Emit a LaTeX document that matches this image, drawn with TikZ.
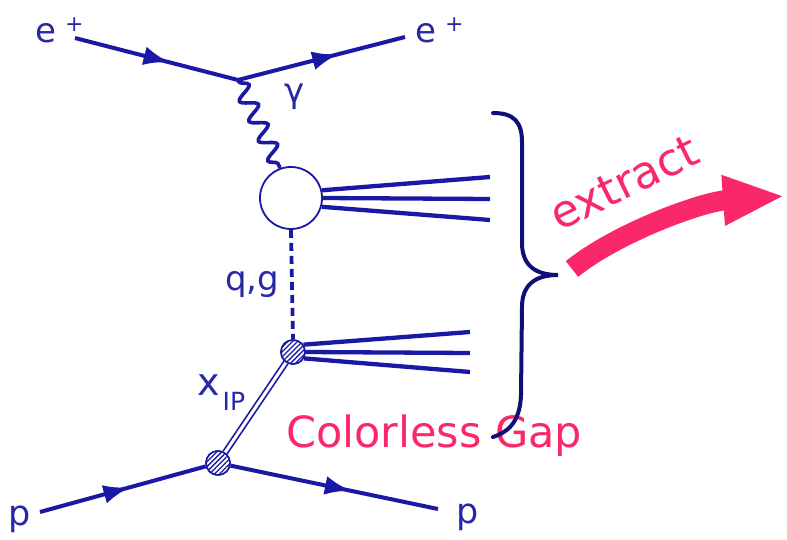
\documentclass[tikz,border=0pt]{standalone}
\usepackage{fontspec}
\setmainfont{DejaVu Sans}
\usetikzlibrary{arrows.meta,decorations.pathmorphing,decorations.markings,patterns.meta}
\definecolor{fblue}{RGB}{25,25,165}
\definecolor{lblue}{RGB}{40,40,165}
\definecolor{brnavy}{RGB}{15,15,120}
\definecolor{gpink}{RGB}{250,40,105}
\newcommand{\myeplus}{e\hspace{9pt}\raisebox{11pt}{\fontsize{22}{22}\selectfont +}}
\begin{document}
\begin{tikzpicture}[x=1pt,y=-1pt,
  fermion/.style={color=fblue,line width=4pt,postaction={decorate},
    decoration={markings,mark=at position #1 with {\arrow{Latex[length=26pt,width=19pt]}}}},
  jet/.style={draw=fblue,line width=4.3pt},
  blob/.style={circle,minimum size=24pt,inner sep=0pt,draw=fblue,line width=1.6pt,fill=white,
    postaction={pattern={Lines[angle=45,distance=3.5pt,line width=1.3pt]},pattern color=fblue}},
  lbl/.style={text=lblue,inner sep=0pt,font=\fontsize{34}{34}\selectfont},
  pinktext/.style={text=gpink,inner sep=0pt,font=\fontsize{43}{43}\selectfont}]
\path[use as bounding box] (0,0) rectangle (787,540);

% vertices and free ends
\coordinate (v) at (238,80);
\coordinate (einS) at (75,38);
\coordinate (eoutE) at (405,37);
\coordinate (pinS) at (40,512);
\coordinate (poutE) at (438,509);
\coordinate (ja1) at (490,177);
\coordinate (ja2) at (490,199);
\coordinate (ja3) at (490,220);
\coordinate (jb1) at (470,332);
\coordinate (jb2) at (470,353);
\coordinate (jb3) at (470,372);

% hadronic blob and vertex blobs
\node[circle,draw=fblue,line width=1.8pt,minimum size=62pt,inner sep=0pt] (hc) at (291,198) {};
\node[blob] (ub) at (293,352) {};
\node[blob] (lb) at (218,463) {};

% positron line
\draw[fermion=0.58] (einS) -- (v);
\draw[fermion=0.6] (v) -- (eoutE);
% photon
\draw[fblue,line width=3.6pt,decorate,decoration={snake,segment length=22pt,amplitude=8pt,pre length=2pt,post length=2pt}] (v) -- (hc.110);
% jets
\draw[jet] (hc.14) -- (ja1);
\draw[jet] (hc.0) -- (ja2);
\draw[jet] (hc.-16) -- (ja3);
\draw[jet] (ub.35) -- (jb1);
\draw[jet] (ub.0) -- (jb2);
\draw[jet] (ub.-30) -- (jb3);
% exchanged parton
\draw[fblue,line width=3.8pt,dash pattern=on 8pt off 5pt] (hc.south) -- (ub.north);
% pomeron
\draw[fblue,line width=1.7pt,double=white,double distance=3pt] (lb) -- (ub);
% proton line
\draw[fermion=0.54] (pinS) -- (lb);
\draw[fermion=0.58] (lb) -- (poutE);
\node[blob] at (ub) {};
\node[blob] at (lb) {};

% labels
\node[lbl,anchor=base west] (eL) at (35,43) {\myeplus};
\node[lbl,anchor=base west] (eR) at (415,43) {\myeplus};
\node[lbl,anchor=base] (gam) at (295,103) {γ};
\node[lbl,anchor=base west] (qg) at (225,290) {q,g};
\node[lbl,anchor=base west] (xip) at (197,395) {{\fontsize{38}{38}\selectfont x}\hspace{3pt}\raisebox{-15pt}{\fontsize{25}{25}\selectfont IP}};
\node[lbl,anchor=base west,font=\fontsize{35}{35}\selectfont] (pL) at (8,525) {p};
\node[lbl,anchor=base west,font=\fontsize{35}{35}\selectfont] (pR) at (456,523) {p};

% colorless gap text
\node[pinktext,anchor=base west] (cg) at (286,447) {Colorless Gap};

% brace
\draw[brnavy,line width=4pt,line cap=round]
  (493,113) .. controls (514,113) and (522,122) .. (522,142) -- (522,243)
  .. controls (522,265) and (535,275) .. (558,275)
  .. controls (535,275) and (522,285) .. (522,307) -- (521,395)
  .. controls (520,425) and (505,433) .. (493,437);

% extract arrow
\draw[gpink,line width=20pt,-{Triangle[length=62pt,width=46pt]}]
  (572,269) .. controls (615,234) and (700,202) .. (785,196);
\node[pinktext,rotate=26,font=\fontsize{45}{45}\selectfont] (ex) at (624,183) {extract};
\end{tikzpicture}
\end{document}
